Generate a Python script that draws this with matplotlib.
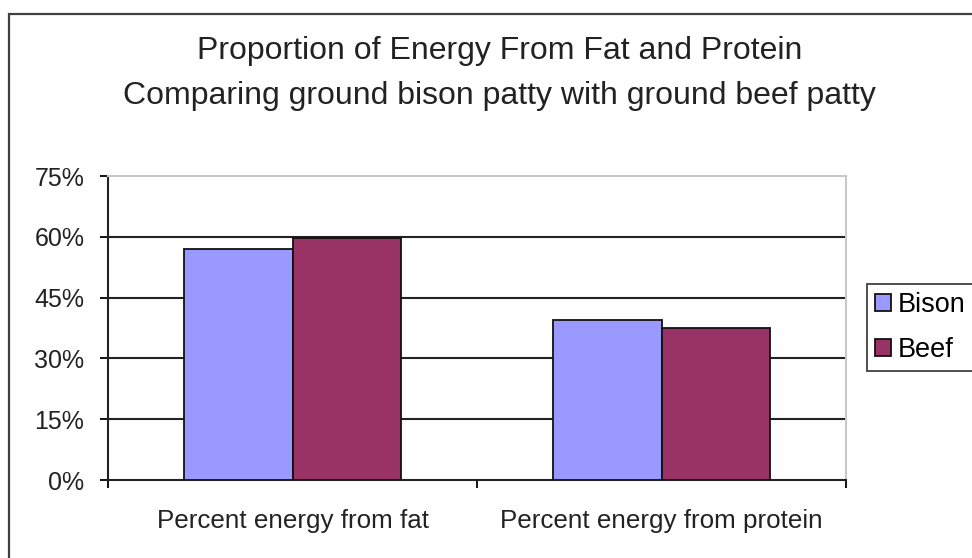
import matplotlib.pyplot as plt
from matplotlib.patches import Rectangle

# Data (percent of energy)
categories = ['Percent energy from fat', 'Percent energy from protein']
bison = [57.1, 39.4]
beef = [59.7, 37.4]
y_ticks = [0, 15, 30, 45, 60, 75]
y_labels = ['0%', '15%', '30%', '45%', '60%', '75%']

plt.rcParams['font.family'] = ['Liberation Sans', 'DejaVu Sans']

fig = plt.figure(figsize=(9.72, 5.58), dpi=100)
ax = fig.add_axes([108 / 972, 1 - 480 / 558, 738 / 972, 304 / 558])

# outer chart border (cut off at right and bottom like the original)
top = 1 - 14 / 558
fig.add_artist(Rectangle((9 / 972, -0.2), 1.2, top + 0.2,
                         transform=fig.transFigure, fill=False,
                         lw=1.6, ec='#404040'))

centers = [i + 0.5 for i in range(len(categories))]
w = 0.293
ax.bar([c - w / 2 for c in centers], bison, w, color='#9999FF',
       edgecolor='#111111', linewidth=1.3, label='Bison', zorder=3)
ax.bar([c + w / 2 for c in centers], beef, w, color='#993366',
       edgecolor='#111111', linewidth=1.3, label='Beef', zorder=3)

ax.set_xlim(0, len(categories))
ax.set_ylim(0, 75)
ax.set_yticks(y_ticks)
ax.set_yticklabels(y_labels)
for y in y_ticks[1:-1]:
    ax.axhline(y, color='#222222', lw=1.5, zorder=1)

ax.set_xticks(range(len(categories) + 1))
ax.set_xticklabels([])
ax.set_xticks(centers, minor=True)
ax.set_xticklabels(categories, minor=True)
ax.tick_params(axis='x', which='minor', length=0, pad=21, labelsize=18.7,
               labelcolor='#222222')
ax.tick_params(axis='x', which='major', length=6, width=1.3, direction='out')
ax.tick_params(axis='y', length=6, width=1.3, pad=11, labelsize=18,
               labelcolor='#222222')

for s in ['left', 'bottom']:
    ax.spines[s].set_color('#222222')
    ax.spines[s].set_linewidth(1.5)
for s in ['top', 'right']:
    ax.spines[s].set_color('#c8c8c8')
    ax.spines[s].set_linewidth(1.5)

fig.text(500 / 972, 1 - 51 / 558, 'Proportion of Energy From Fat and Protein',
         ha='center', va='center', fontsize=23, color='#222222')
fig.text(499 / 972, 1 - 96 / 558, 'Comparing ground bison patty with ground beef patty',
         ha='center', va='center', fontsize=23, color='#222222')

leg = fig.legend(loc='upper left', bbox_to_anchor=(867 / 972, 1 - 284 / 558),
                 fontsize=19.5, frameon=True, fancybox=False, shadow=False,
                 borderaxespad=0, borderpad=0.3, handlelength=0.6,
                 handleheight=0.55, handletextpad=0.25, labelspacing=0.7)
leg.get_frame().set_edgecolor('#111111')
leg.get_frame().set_linewidth(1.3)

fig.savefig('out.png', dpi=100)
